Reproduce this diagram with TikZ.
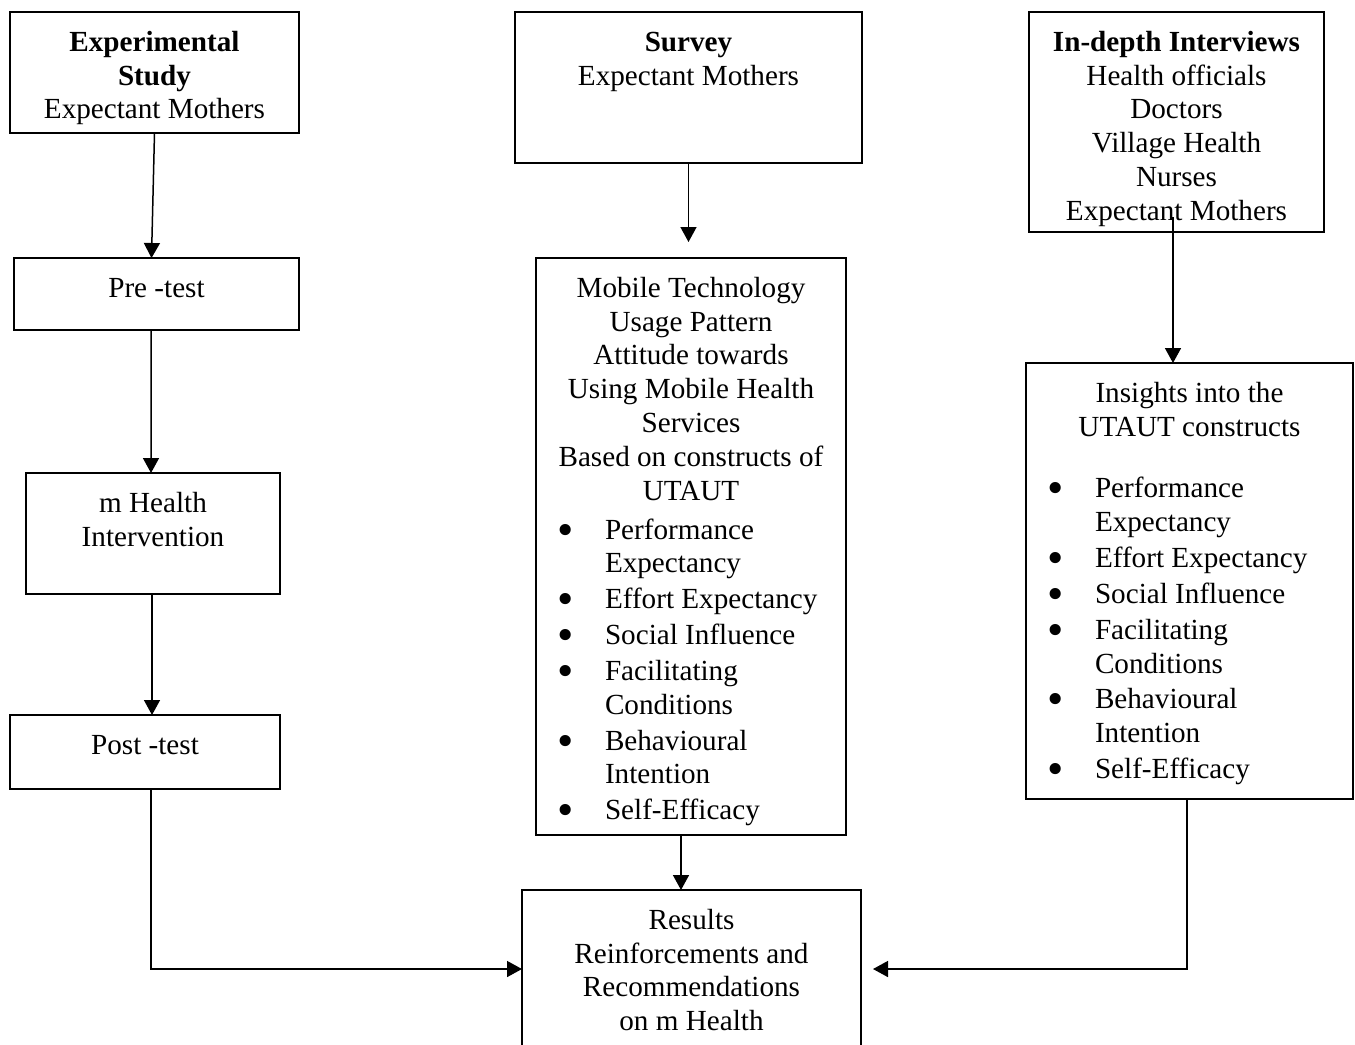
\documentclass[tikz,border=0pt]{standalone}
\usepackage{fontspec}
\setmainfont{Liberation Serif}
\usetikzlibrary{arrows.meta}

\newcommand{\stagetext}[3]{\parbox[t][#2][t]{#1}{\centering\rule{0pt}{23.5pt}#3}}
\newcommand{\itm}[1]{\par\vspace{1.2pt}\hangindent=41.4pt\hangafter=1\noindent\hspace*{12.6pt}\makebox[28.8pt][l]{\raisebox{-3.6pt}{\scalebox{1.6}{\textbullet}}}#1}

\begin{document}
\begin{tikzpicture}[x=0.6pt,y=-0.6pt]
    \tikzstyle{stage}=[draw=black,line width=1pt,inner sep=0pt,outer sep=0pt,anchor=north west,font=\fontsize{17.5pt}{20.3pt}\selectfont]
    \tikzstyle{arrow}=[line width=0.9pt,-{Triangle[length=9pt,width=9.6pt]}]
    \useasboundingbox (0,0) rectangle (1355,1044);

    % experimental study
    \node[stage] (a1) at (10,12) {\stagetext{173.4pt}{72.6pt}{\textbf{Experimental}\\\textbf{Study}\\Expectant Mothers}};
    \node[stage] (a2) at (14,258) {\stagetext{171pt}{43.2pt}{Pre -test}};
    \node[stage] (a3) at (26,473) {\stagetext{152.4pt}{72.6pt}{m Health\\Intervention}};
    \node[stage] (a4) at (10,715) {\stagetext{162pt}{44.4pt}{Post -test}};

    % survey
    \node[stage] (b1) at (515,12) {\stagetext{208.2pt}{90.6pt}{\textbf{Survey}\\Expectant Mothers}};
    \node[stage] (b2) at (536,258) {\stagetext{186pt}{346.2pt}{Mobile Technology\\Usage Pattern\\Attitude towards\\Using Mobile Health\\Services\\Based on constructs of\\UTAUT\par\vspace{1.8pt}\raggedright
        \itm{Performance\newline Expectancy}\itm{Effort Expectancy}\itm{Social Influence}\itm{Facilitating\newline Conditions}\itm{Behavioural\newline Intention}\itm{Self-Efficacy}}};
    \node[stage] (b3) at (522,890) {\stagetext{203.4pt}{94.8pt}{Results\\Reinforcements and\\Recommendations\\on m Health}};

    % interviews
    \node[stage] (c1) at (1029,12) {\stagetext{177pt}{132pt}{\textbf{In-depth Interviews}\\Health officials\\Doctors\\Village Health\\Nurses\\Expectant Mothers}};
    \node[stage] (c2) at (1026,363) {\stagetext{196.2pt}{261.6pt}{Insights into the\\UTAUT constructs\par\vspace{15.6pt}\raggedright
        \itm{Performance\newline Expectancy}\itm{Effort Expectancy}\itm{Social Influence}\itm{Facilitating\newline Conditions}\itm{Behavioural\newline Intention}\itm{Self-Efficacy}}};

    \draw[arrow] (a1.south) -- ([xshift=-3pt]a2.north);
    \draw[arrow] ([xshift=-3.3pt]a2.south) -- ([xshift=-1.2pt]a3.north);
    \draw[arrow] ([xshift=-0.6pt]a3.south) -- ([xshift=-0.6pt]a3.south |- a4.north);
    \draw[arrow] ([xshift=3.6pt]a4.south) |- (b3.west);
    \draw[arrow,shorten >=9.6pt] (b1.south) -- (b1.south |- b2.north);
    \draw[arrow] ([xshift=-6pt]b2.south) -- ([xshift=-6pt]b2.south |- b3.north);
    \draw[arrow] ([xshift=-2.1pt,yshift=9pt]c1.south) -- ([xshift=-2.1pt]c1.south |- c2.north);
    \draw[arrow,shorten >=7.2pt] ([xshift=-1.5pt]c2.south) |- (b3.east);
\end{tikzpicture}
\end{document}
